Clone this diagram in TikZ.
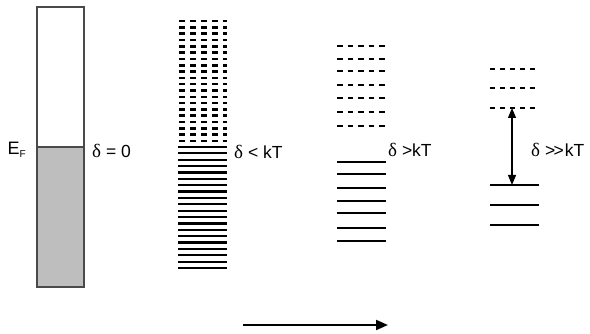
\documentclass[tikz,border=0pt]{standalone}
\usepackage{fontspec}
\setmainfont{Liberation Sans}
\newfontfamily\grk{Liberation Serif}
\usetikzlibrary{arrows.meta}
\definecolor{fillgray}{HTML}{BEBEBE}
\definecolor{edgegray}{HTML}{4A4A4A}
\tikzset{
  level/.style={line width=2.2pt, black},
  emptylevel/.style={line width=2.6pt, black, dash pattern=on #1 off 5pt},
  emptylevel/.default=6pt,
  lbl/.style={anchor=west, inner sep=0pt, font=\fontsize{17.5}{20}\selectfont},
  gap/.style={line width=1.2pt},
  trend/.style={-{Triangle[length=12pt,width=10pt]}, line width=2pt}
}
\newcommand{\dlt}{{\grk\fontsize{19}{20}\selectfont δ}}
\begin{document}
\begin{tikzpicture}[x=1pt,y=-1pt]
  \useasboundingbox (0,0) rectangle (590,334);

  % continuous band: empty states above, filled states below E_F
  \fill[fillgray] (37,147) rectangle (84,287);
  \draw[edgegray, line width=1.5pt] (37,7) rectangle (84,287);
  \draw[edgegray, line width=1.5pt] (37,147) -- (84,147);
  \node[anchor=center, inner sep=0pt, font=\fontsize{18}{20}\selectfont] (ef) at (17,150) {E\textsubscript{\fontsize{10}{11}\selectfont F}};
  \node[lbl] (d0) at (92,151) {\dlt{} = 0};

  % dense levels, spacing below kT
  \foreach \i in {0,...,19}
    \draw[emptylevel] (179,{21+\i*6.32}) -- (227,{21+\i*6.32});
  \foreach \i in {0,...,19}
    \draw[level] (178,{147+\i*6.37}) -- (227,{147+\i*6.37});
  \node[lbl] (d1) at (234,152) {\dlt{} < kT};

  % sparser levels, spacing above kT
  \foreach \y in {46,59,71,85,98,112,126}
    \draw[emptylevel=5.5pt] (337,\y) -- (386,\y);
  \foreach \y in {162,174,188,201,213,228,241}
    \draw[level] (337,\y) -- (386,\y);
  \node[lbl] (d2) at (388,150) {\dlt{} >kT};

  % well separated levels, spacing far above kT
  \foreach \y in {69,88,108}
    \draw[emptylevel=5pt] (490,\y) -- (538,\y);
  \foreach \y in {185,205,225}
    \draw[level] (490,\y) -- (539,\y);
  \coordinate (gtop) at (512,108);
  \coordinate (gbot) at (512,185);
  \draw[gap, {Triangle[length=10pt,width=8pt]}-{Triangle[length=10pt,width=8pt]}] (gtop) -- (gbot);
  \node[lbl] (d3) at (531,150) {\dlt{} >\kern-1.5pt>\kern1pt kT};

  % direction of decreasing size
  \coordinate (ts) at (243,325);
  \coordinate (te) at (388,325);
  \draw[trend] (ts) -- (te);
\end{tikzpicture}
\end{document}
